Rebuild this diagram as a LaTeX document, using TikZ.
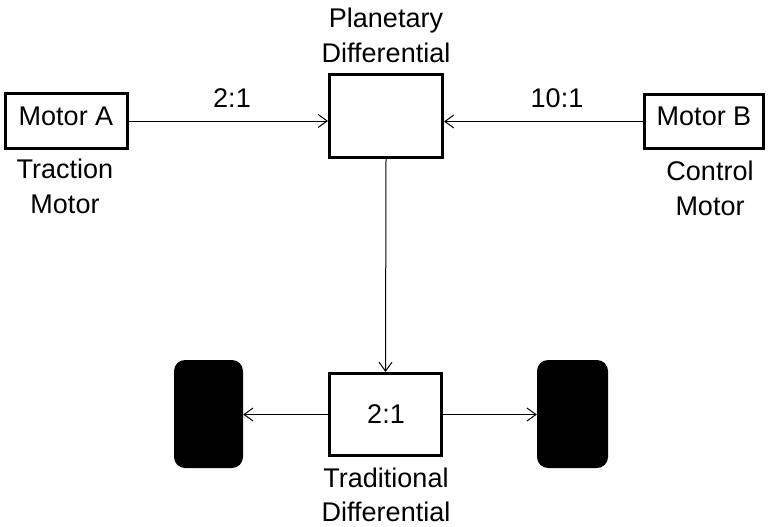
\documentclass[tikz,border=0pt]{standalone}
\usepackage{fontspec}
\setmainfont{Liberation Sans}
\usetikzlibrary{arrows.meta}
\begin{document}
\begin{tikzpicture}[x=1pt,y=-1pt,
  box/.style={draw,line width=3pt,inner sep=0pt,fill=white},
  wheel/.style={fill=black,rounded corners=11pt,inner sep=0pt},
  lbl/.style={font=\fontsize{27}{35}\selectfont,anchor=base,inner sep=0pt},
  conn/.style={line width=1pt,-{Straight Barb[length=9pt,width=13pt,line width=1pt]}}]
\useasboundingbox (0,0) rectangle (768,527);
\node[box,minimum width=122pt,minimum height=55pt] (motorA) at (66,121) {};
\node[box,minimum width=113pt,minimum height=83pt] (planet) at (386,116) {};
\node[box,minimum width=119pt,minimum height=54pt] (motorB) at (704,121.5) {};
\node[box,minimum width=112pt,minimum height=82pt] (trad) at (385.5,414.5) {};
\node[wheel,minimum width=69pt,minimum height=108pt] (wheelL) at (208.5,414) {};
\node[wheel,minimum width=71pt,minimum height=108pt] (wheelR) at (572.5,414) {};
% texts
\node[lbl] (tA) at (66,125) {Motor A};
\node[lbl] (tB) at (704,125) {Motor B};
\node[lbl] (tTr1) at (65,178) {Traction};
\node[lbl] (tTr2) at (65,213) {Motor};
\node[lbl] (tC1) at (710,180) {Control};
\node[lbl] (tC2) at (710,215) {Motor};
\node[lbl] (tP1) at (386,28) {Planetary};
\node[lbl] (tP2) at (386,63) {Differential};
\node[lbl] (tD1) at (386,487) {Traditional};
\node[lbl] (tD2) at (386,521) {Differential};
\node[lbl] (r1) at (232,107) {2:1};
\node[lbl] (r2) at (557,107) {10:1};
\node[lbl] (r3) at (386,423) {2:1};
% connectors
\draw[conn] (motorA.east) -- (motorA.east -| planet.west);
\draw[conn] (motorB.west) -- (motorB.west -| planet.east);
\draw[conn] (planet.south) -- (trad.north);
\draw[conn] (trad.west) -- (trad.west -| wheelL.east);
\draw[conn] (trad.east) -- (trad.east -| wheelR.west);
\end{tikzpicture}
\end{document}
